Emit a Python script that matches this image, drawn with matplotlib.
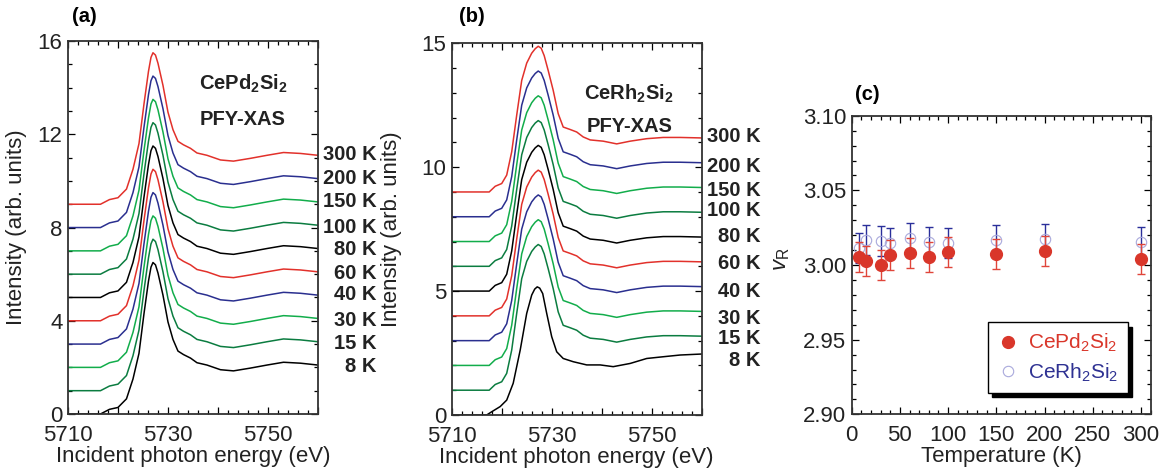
import numpy as np
import matplotlib
matplotlib.use("Agg")
import matplotlib.pyplot as plt
from matplotlib.ticker import MultipleLocator, FuncFormatter
from matplotlib.transforms import blended_transform_factory

plt.rcParams['font.family'] = ['Liberation Sans', 'DejaVu Sans']
plt.rcParams['mathtext.fontset'] = 'custom'
plt.rcParams['mathtext.rm'] = 'Liberation Sans'
plt.rcParams['mathtext.it'] = 'Liberation Sans:italic'
plt.rcParams['mathtext.bf'] = 'Liberation Sans:bold'

# temperatures, offsets and colours of the stacked spectra
temps = ['8 K', '15 K', '30 K', '40 K', '60 K', '80 K', '100 K', '150 K', '200 K', '300 K']
offsets = [0, 1, 2, 3, 4, 5, 6, 7, 8, 9]
RED, BLUE, GREEN, DGREEN = '#e2312b', '#2a2f8f', '#12ad4b', '#0b7c40'
colors = ['black', DGREEN, GREEN, BLUE, RED, 'black', DGREEN, GREEN, BLUE, RED]

# (a) CePd2Si2 spectrum shape
energy_a = [5710, 5716.5, 5718.3, 5720.0, 5721.7, 5723.0, 5724.2, 5725.2, 5726.1, 5726.6,
            5727.0, 5727.5, 5728.0, 5729.0, 5730.0, 5731.0, 5732.0, 5733.1, 5734.5, 5735.8,
            5737.8, 5740.5, 5743.1, 5746.5, 5749.8, 5753.1, 5756.5, 5760]
inten_a = [0.0, 0.0, 0.2, 0.28, 0.65, 1.5, 2.6, 4.3, 5.7, 6.3,
           6.5, 6.4, 6.05, 5.1, 3.95, 3.2, 2.7, 2.55, 2.4, 2.2,
           2.1, 1.9, 1.85, 1.97, 2.1, 2.22, 2.18, 2.1]
label_y_a = [2.03, 3.03, 4.03, 5.11, 6.04, 7.04, 8.0, 9.11, 10.12, 11.12]

# (b) CeRh2Si2 spectrum shape (most temperatures) and the 8 K one
energy_b = [5710, 5717.5, 5718.7, 5720.0, 5721.0, 5722.0, 5723.0, 5724.0, 5725.0, 5726.0,
            5726.7, 5727.3, 5727.9, 5728.5, 5729.3, 5730.3, 5731.3, 5732.3, 5733.7, 5735.0,
            5736.3, 5737.7, 5740.3, 5743.0, 5745.7, 5749.0, 5752.3, 5755.7, 5760]
inten_b = [0.0, 0.0, 0.23, 0.34, 0.68, 1.62, 3.1, 4.5, 5.2, 5.6,
           5.78, 5.88, 5.8, 5.5, 4.9, 4.1, 3.16, 2.62, 2.52, 2.42,
           2.22, 2.1, 2.05, 1.94, 2.05, 2.15, 2.2, 2.2, 2.18]
energy_b8 = [5710, 5717.0, 5718.0, 5719.7, 5721.0, 5722.3, 5723.7, 5725.0, 5726.0, 5726.6,
             5727.1, 5727.6, 5728.2, 5729.0, 5730.0, 5731.0, 5732.3, 5734.3, 5737.0, 5739.7,
             5742.3, 5745.7, 5749.0, 5752.3, 5755.7, 5760]
inten_b8 = [0.0, 0.0, 0.13, 0.34, 0.6, 1.28, 2.62, 4.1, 4.84, 5.08,
            5.17, 5.12, 4.9, 4.1, 3.16, 2.55, 2.28, 2.15, 2.02, 2.02,
            1.95, 2.08, 2.28, 2.35, 2.42, 2.46]
label_y_b = [2.2, 3.09, 3.9, 4.97, 6.12, 7.19, 8.27, 9.07, 10.01, 11.22]

# (c) valence vs temperature
T = [8, 15, 30, 40, 60, 80, 100, 150, 200, 300]
v_pd = [3.0056, 3.0027, 3.0000, 3.0067, 3.0078, 3.0051, 3.0085, 3.0072, 3.0094, 3.0038]
v_rh = [3.0112, 3.0167, 3.0163, 3.0145, 3.0179, 3.0152, 3.0145, 3.0167, 3.0172, 3.0156]
err_pd = [0.01] * 10
err_rh = [0.01] * 10

fig = plt.figure(figsize=(11.66, 4.72), dpi=100)
ax_a = fig.add_axes([0.0583, 0.1229, 0.2144, 0.790])
ax_b = fig.add_axes([0.3874, 0.1208, 0.2144, 0.7875])
ax_c = fig.add_axes([0.7304, 0.1222, 0.2564, 0.6326])

FS = 16
TXT = '#222222'


def style_axes(ax):
    ax.tick_params(which='both', direction='in', top=True, right=True, labelsize=FS,
                   width=0.9, labelcolor=TXT)
    ax.tick_params(which='major', length=5)
    ax.tick_params(which='minor', length=3)
    ax.tick_params(axis='x', pad=8)
    ax.tick_params(axis='y', pad=4)
    for s in ax.spines.values():
        s.set_linewidth(1.3)
        s.set_color('#333333')


def style_spec(ax, ymax, ymajor):
    ax.set_xlim(5710, 5760)
    ax.set_ylim(0, ymax)
    ax.xaxis.set_major_locator(MultipleLocator(10))
    ax.xaxis.set_minor_locator(MultipleLocator(2))
    ax.xaxis.set_major_formatter(FuncFormatter(
        lambda x, p: '%d' % x if round(x - 5710) % 20 == 0 else ''))
    ax.yaxis.set_major_locator(MultipleLocator(ymajor))
    ax.yaxis.set_minor_locator(MultipleLocator(1))
    style_axes(ax)
    ax.set_xlabel('Incident photon energy (eV)', fontsize=FS, labelpad=0, color=TXT)
    ax.set_ylabel('Intensity (arb. units)', fontsize=FS, color=TXT)


def temp_labels(ax, ys):
    tr = blended_transform_factory(ax.transAxes, ax.transData)
    for t, y in zip(temps, ys):
        ax.text(1.235, y, t, transform=tr, ha='right', va='center',
                fontsize=14.5, fontweight='bold', color=TXT)


# panel (a)
for off, c in zip(offsets, colors):
    ax_a.plot(energy_a, np.array(inten_a) + off, color=c, lw=1.1)
style_spec(ax_a, 16, 4)
ax_a.yaxis.set_label_coords(-0.165, 0.5)
temp_labels(ax_a, label_y_a)
ax_a.text(0.70, 0.885, r'CePd$_\mathbf{2}$Si$_\mathbf{2}$', transform=ax_a.transAxes,
          ha='center', va='center', fontsize=14.5, fontweight='bold', color=TXT)
ax_a.text(0.70, 0.79, 'PFY-XAS', transform=ax_a.transAxes,
          ha='center', va='center', fontsize=14.5, fontweight='bold', color=TXT)
fig.text(72 / 1166, 1 - 17 / 472, '(a)', fontsize=14.5, fontweight='bold', va='center')

# panel (b)
for i, (off, c) in enumerate(zip(offsets, colors)):
    if i == 0:
        ax_b.plot(energy_b8, np.array(inten_b8) + off, color=c, lw=1.1)
    else:
        ax_b.plot(energy_b, np.array(inten_b) + off, color=c, lw=1.1)
style_spec(ax_b, 15, 5)
ax_b.yaxis.set_label_coords(-0.2, 0.5)
temp_labels(ax_b, label_y_b)
ax_b.text(0.71, 0.865, r'CeRh$_\mathbf{2}$Si$_\mathbf{2}$', transform=ax_b.transAxes,
          ha='center', va='center', fontsize=14.5, fontweight='bold', color=TXT)
ax_b.text(0.71, 0.775, 'PFY-XAS', transform=ax_b.transAxes,
          ha='center', va='center', fontsize=14.5, fontweight='bold', color=TXT)
fig.text(459 / 1166, 1 - 17 / 472, '(b)', fontsize=14.5, fontweight='bold', va='center')

# panel (c)
ax_c.errorbar(T, v_rh, yerr=err_rh, fmt='none', ecolor='#2a2f9a', elinewidth=1.0,
              capsize=3, capthick=1.0, zorder=2)
ax_c.plot(T, v_rh, 'o', ms=7.5, mfc='none', mec='#a9a9dc', mew=0.8, zorder=3,
          label=r'CeRh$_2$Si$_2$')
ax_c.errorbar(T, v_pd, yerr=err_pd, fmt='none', ecolor='#e0453a', elinewidth=1.0,
              capsize=3, capthick=1.0, zorder=4)
ax_c.plot(T, v_pd, 'o', ms=8.5, color='#d9362a', zorder=5, label=r'CePd$_2$Si$_2$')
ax_c.set_xlim(0, 310)
ax_c.set_ylim(2.90, 3.10)
ax_c.xaxis.set_major_locator(MultipleLocator(50))
ax_c.xaxis.set_minor_locator(MultipleLocator(10))
ax_c.yaxis.set_major_locator(MultipleLocator(0.05))
ax_c.yaxis.set_minor_locator(MultipleLocator(0.01))
ax_c.yaxis.set_major_formatter(FuncFormatter(lambda y, p: '%.2f' % y))
style_axes(ax_c)
ax_c.set_xlabel('Temperature (K)', fontsize=FS, labelpad=0, color=TXT)
ax_c.set_ylabel(r'$v_{\rm R}$', fontsize=FS, color=TXT)
ax_c.yaxis.set_label_coords(-0.2, 0.52)
fig.text(855 / 1166, 1 - 95 / 472, '(c)', fontsize=14.5, fontweight='bold', va='center')

h, l = ax_c.get_legend_handles_labels()
leg = ax_c.legend(h[::-1], l[::-1], loc='lower right', bbox_to_anchor=(0.924, 0.071),
                  borderaxespad=0, fontsize=15, frameon=True, fancybox=False,
                  edgecolor='black', framealpha=1,
                  shadow={'color': 'black', 'alpha': 1, 'ox': 3, 'oy': -3},
                  handletextpad=0.4, handlelength=1.1, borderpad=0.45, labelspacing=0.35)
leg.get_frame().set_linewidth(1.0)
for txt, c in zip(leg.get_texts(), ['#d9362a', '#2e3192']):
    txt.set_color(c)

fig.savefig('out.png', dpi=100)
